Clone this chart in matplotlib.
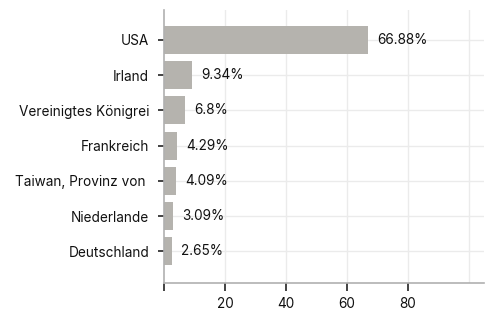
import matplotlib
matplotlib.use("Agg")
from matplotlib import pyplot as plt

countries = ["USA", "Irland", "Vereinigtes Königrei", "Frankreich",
             "Taiwan, Provinz von ", "Niederlande", "Deutschland"]
shares = [66.88, 9.34, 6.8, 4.29, 4.09, 3.09, 2.65]
share_labels = ["66.88%", "9.34%", "6.8%", "4.29%", "4.09%", "3.09%", "2.65%"]

plt.rcParams["font.family"] = ["Inter", "DejaVu Sans"]

fig = plt.figure(figsize=(4.92, 3.15), dpi=100)
ax = fig.add_axes([164 / 492, 1 - 283 / 315, 320 / 492, 273 / 315])

y_pos = list(range(len(countries)))[::-1]
ax.barh(y_pos, shares, height=0.8, color="#b5b3ae", zorder=2)
for y, v, lab in zip(y_pos, shares, share_labels):
    ax.annotate(lab, (v, y), xytext=(6.5, 0), textcoords="offset points",
                va="center", ha="left", fontsize=9.8, color="#111111")

ax.set_yticks(y_pos)
ax.set_yticklabels(countries, fontsize=9.8, color="#111111")
ax.set_ylim(-0.9, 6.85)
ax.set_xlim(0, 105)
ax.set_xticks([0, 20, 40, 60, 80])
ax.set_xticklabels(["", "20", "40", "60", "80"], fontsize=9.8, color="#111111")

for gx in [20, 40, 60, 80, 100]:
    ax.axvline(gx, color="#ebebeb", lw=1, zorder=0)
for gy in y_pos:
    ax.axhline(gy, color="#ebebeb", lw=1, zorder=0)

for side in ["top", "right"]:
    ax.spines[side].set_visible(False)
for side in ["left", "bottom"]:
    ax.spines[side].set_color("#b0b0b0")
    ax.spines[side].set_linewidth(1.2)
ax.tick_params(axis="x", length=6, width=1.2, color="#222222", pad=4)
ax.tick_params(axis="y", length=4.3, width=1.2, color="#222222", pad=6.5)

fig.savefig("out.png", dpi=100)
